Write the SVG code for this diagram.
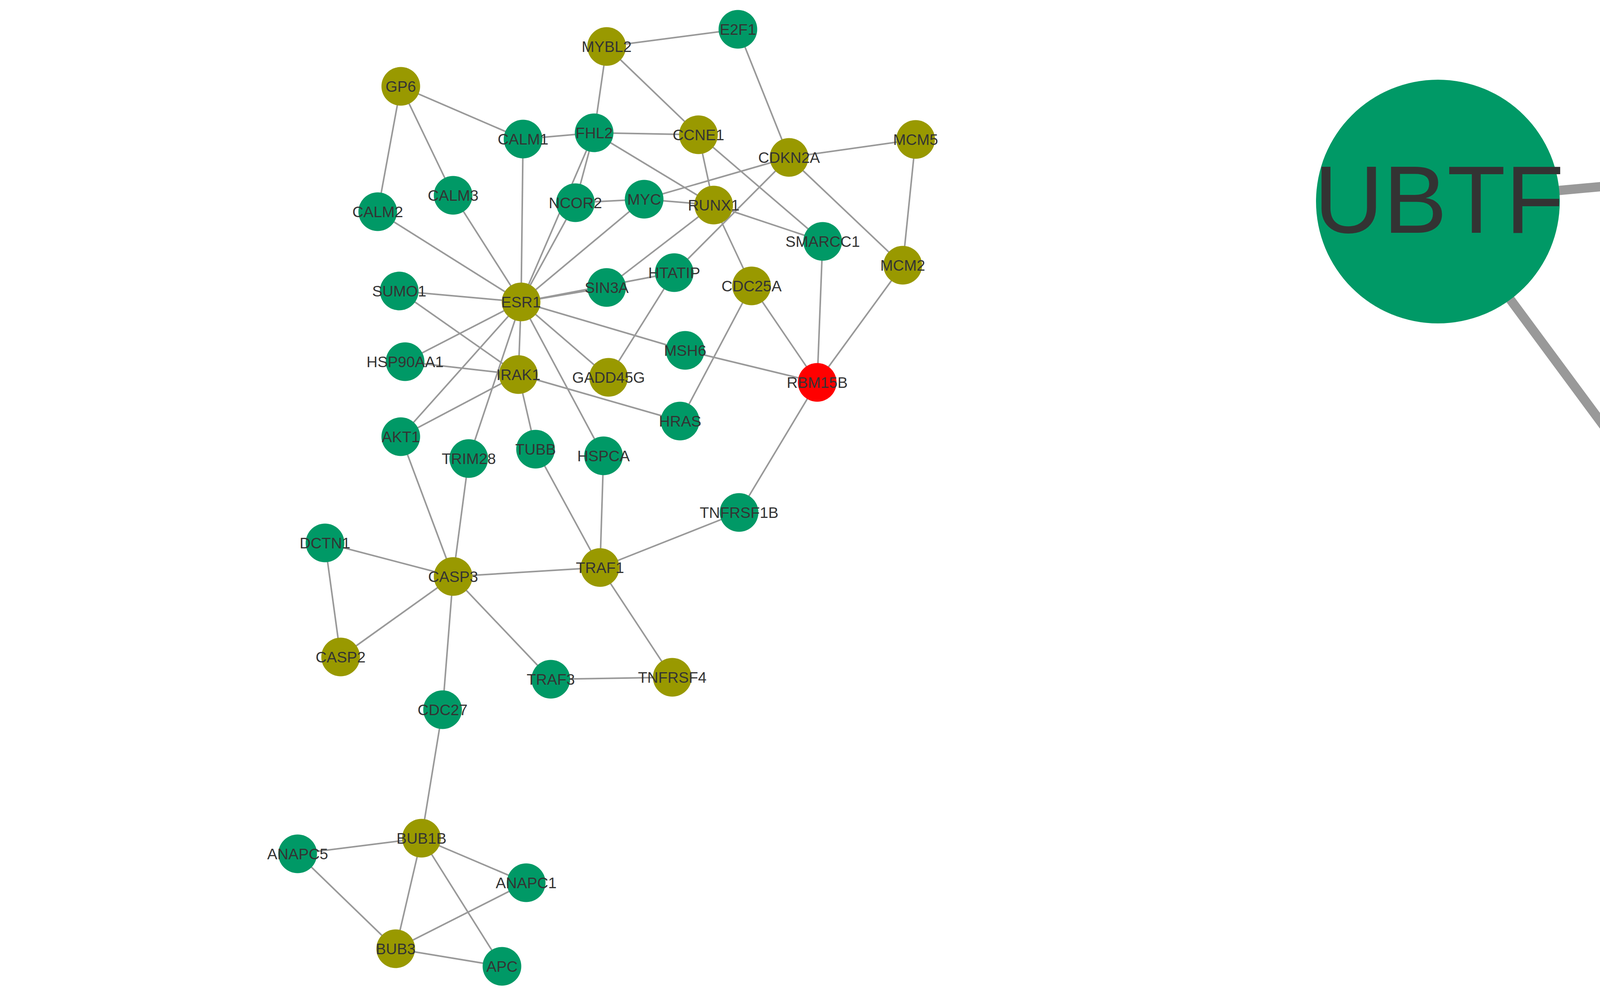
<svg xmlns="http://www.w3.org/2000/svg" width="6213" height="2550" viewBox="0 0 6213 2550">
<style>
.e{stroke:#999999;stroke-width:4;fill:none}
.eL{stroke:#999999;stroke-width:24;fill:none}
.g{fill:#009966}
.o{fill:#999900}
.r{fill:#ff0000}
.t{font-family:"Liberation Sans",Arial,sans-serif;font-size:39px;fill:#333333;text-anchor:middle}
.T{font-family:"Liberation Sans",Arial,sans-serif;font-size:245px;fill:#333333;text-anchor:middle}
</style>
<rect width="6213" height="2550" fill="#ffffff"/>
<g id="edges">
<line class="e" x1="1553" y1="119" x2="1889" y2="75"/>
<line class="e" x1="1553" y1="119" x2="1521" y2="340"/>
<line class="e" x1="1553" y1="119" x2="1788" y2="345"/>
<line class="e" x1="1026" y1="221" x2="1339" y2="356"/>
<line class="e" x1="1026" y1="221" x2="967" y2="542"/>
<line class="e" x1="1026" y1="221" x2="1160" y2="500"/>
<line class="e" x1="1339" y1="356" x2="1521" y2="340"/>
<line class="e" x1="1339" y1="356" x2="1334" y2="773"/>
<line class="e" x1="1521" y1="340" x2="1788" y2="345"/>
<line class="e" x1="1521" y1="340" x2="1827" y2="525"/>
<line class="e" x1="1521" y1="340" x2="1473" y2="519"/>
<line class="e" x1="1521" y1="340" x2="1334" y2="773"/>
<line class="e" x1="1473" y1="519" x2="1334" y2="773"/>
<line class="e" x1="1473" y1="519" x2="1649" y2="510"/>
<line class="e" x1="1649" y1="510" x2="1827" y2="525"/>
<line class="e" x1="1649" y1="510" x2="2020" y2="403"/>
<line class="e" x1="1649" y1="510" x2="1334" y2="773"/>
<line class="e" x1="1827" y1="525" x2="1553" y2="736"/>
<line class="e" x1="1827" y1="525" x2="2106" y2="618"/>
<line class="e" x1="1827" y1="525" x2="1788" y2="345"/>
<line class="e" x1="1827" y1="525" x2="1924" y2="732"/>
<line class="e" x1="1788" y1="345" x2="2106" y2="618"/>
<line class="e" x1="2020" y1="403" x2="1889" y2="75"/>
<line class="e" x1="2020" y1="403" x2="2344" y2="357"/>
<line class="e" x1="2020" y1="403" x2="2311" y2="679"/>
<line class="e" x1="2020" y1="403" x2="1726" y2="698"/>
<line class="e" x1="2344" y1="357" x2="2311" y2="679"/>
<line class="e" x1="2106" y1="618" x2="2092" y2="979"/>
<line class="e" x1="2311" y1="679" x2="2092" y2="979"/>
<line class="e" x1="1924" y1="732" x2="2092" y2="979"/>
<line class="e" x1="1924" y1="732" x2="1741" y2="1078"/>
<line class="e" x1="1754" y1="897" x2="2092" y2="979"/>
<line class="e" x1="1334" y1="773" x2="1754" y2="897"/>
<line class="e" x1="1334" y1="773" x2="1726" y2="698"/>
<line class="e" x1="1334" y1="773" x2="1553" y2="736"/>
<line class="e" x1="1726" y1="698" x2="1558" y2="966"/>
<line class="e" x1="1334" y1="773" x2="1558" y2="966"/>
<line class="e" x1="1334" y1="773" x2="1022" y2="745"/>
<line class="e" x1="1334" y1="773" x2="967" y2="542"/>
<line class="e" x1="1334" y1="773" x2="1160" y2="500"/>
<line class="e" x1="1334" y1="773" x2="1037" y2="926"/>
<line class="e" x1="1334" y1="773" x2="1327" y2="959"/>
<line class="e" x1="1334" y1="773" x2="1026" y2="1118"/>
<line class="e" x1="1334" y1="773" x2="1200" y2="1174"/>
<line class="e" x1="1334" y1="773" x2="1545" y2="1167"/>
<line class="e" x1="1022" y1="745" x2="1327" y2="959"/>
<line class="e" x1="1037" y1="926" x2="1327" y2="959"/>
<line class="e" x1="1327" y1="959" x2="1026" y2="1118"/>
<line class="e" x1="1327" y1="959" x2="1371" y2="1150"/>
<line class="e" x1="1327" y1="959" x2="1741" y2="1078"/>
<line class="e" x1="1026" y1="1118" x2="1160" y2="1476"/>
<line class="e" x1="1200" y1="1174" x2="1160" y2="1476"/>
<line class="e" x1="1371" y1="1150" x2="1536" y2="1453"/>
<line class="e" x1="1545" y1="1167" x2="1536" y2="1453"/>
<line class="e" x1="1892" y1="1312" x2="1536" y2="1453"/>
<line class="e" x1="1892" y1="1312" x2="2092" y2="979"/>
<line class="e" x1="1160" y1="1476" x2="832" y2="1390"/>
<line class="e" x1="1160" y1="1476" x2="1536" y2="1453"/>
<line class="e" x1="1160" y1="1476" x2="872" y2="1682"/>
<line class="e" x1="1160" y1="1476" x2="1410" y2="1739"/>
<line class="e" x1="1160" y1="1476" x2="1133" y2="1817"/>
<line class="e" x1="832" y1="1390" x2="872" y2="1682"/>
<line class="e" x1="1536" y1="1453" x2="1721" y2="1734"/>
<line class="e" x1="1410" y1="1739" x2="1721" y2="1734"/>
<line class="e" x1="1133" y1="1817" x2="1079" y2="2146"/>
<line class="e" x1="1079" y1="2146" x2="762" y2="2186"/>
<line class="e" x1="1079" y1="2146" x2="1347" y2="2260"/>
<line class="e" x1="1079" y1="2146" x2="1013" y2="2429"/>
<line class="e" x1="1079" y1="2146" x2="1285" y2="2474"/>
<line class="e" x1="762" y1="2186" x2="1013" y2="2429"/>
<line class="e" x1="1347" y1="2260" x2="1013" y2="2429"/>
<line class="e" x1="1013" y1="2429" x2="1285" y2="2474"/>
<line class="eL" x1="3681" y1="516" x2="5637" y2="337"/>
<line class="eL" x1="3681" y1="516" x2="4935" y2="2212"/>
<line class="eL" x1="5637" y1="337" x2="4935" y2="2212"/>
</g>
<g id="n-MYBL2"><circle class="o" cx="1553" cy="119" r="49.5"/><text class="t" x="1553" y="133">MYBL2</text></g>
<g id="n-E2F1"><circle class="g" cx="1889" cy="75" r="49.5"/><text class="t" x="1889" y="89">E2F1</text></g>
<g id="n-GP6"><circle class="o" cx="1026" cy="221" r="49.5"/><text class="t" x="1026" y="235">GP6</text></g>
<g id="n-CALM1"><circle class="g" cx="1339" cy="356" r="49.5"/><text class="t" x="1339" y="370">CALM1</text></g>
<g id="n-FHL2"><circle class="g" cx="1521" cy="340" r="49.5"/><text class="t" x="1521" y="354">FHL2</text></g>
<g id="n-CCNE1"><circle class="o" cx="1788" cy="345" r="49.5"/><text class="t" x="1788" y="359">CCNE1</text></g>
<g id="n-CDKN2A"><circle class="o" cx="2020" cy="403" r="49.5"/><text class="t" x="2020" y="417">CDKN2A</text></g>
<g id="n-MCM5"><circle class="o" cx="2344" cy="357" r="49.5"/><text class="t" x="2344" y="371">MCM5</text></g>
<g id="n-CALM2"><circle class="g" cx="967" cy="542" r="49.5"/><text class="t" x="967" y="556">CALM2</text></g>
<g id="n-CALM3"><circle class="g" cx="1160" cy="500" r="49.5"/><text class="t" x="1160" y="514">CALM3</text></g>
<g id="n-NCOR2"><circle class="g" cx="1473" cy="519" r="49.5"/><text class="t" x="1473" y="533">NCOR2</text></g>
<g id="n-MYC"><circle class="g" cx="1649" cy="510" r="49.5"/><text class="t" x="1649" y="524">MYC</text></g>
<g id="n-RUNX1"><circle class="o" cx="1827" cy="525" r="49.5"/><text class="t" x="1827" y="539">RUNX1</text></g>
<g id="n-SMARCC1"><circle class="g" cx="2106" cy="618" r="49.5"/><text class="t" x="2106" y="632">SMARCC1</text></g>
<g id="n-MCM2"><circle class="o" cx="2311" cy="679" r="49.5"/><text class="t" x="2311" y="693">MCM2</text></g>
<g id="n-HTATIP"><circle class="g" cx="1726" cy="698" r="49.5"/><text class="t" x="1726" y="712">HTATIP</text></g>
<g id="n-SIN3A"><circle class="g" cx="1553" cy="736" r="49.5"/><text class="t" x="1553" y="750">SIN3A</text></g>
<g id="n-CDC25A"><circle class="o" cx="1924" cy="732" r="49.5"/><text class="t" x="1924" y="746">CDC25A</text></g>
<g id="n-ESR1"><circle class="o" cx="1334" cy="773" r="49.5"/><text class="t" x="1334" y="787">ESR1</text></g>
<g id="n-SUMO1"><circle class="g" cx="1022" cy="745" r="49.5"/><text class="t" x="1022" y="759">SUMO1</text></g>
<g id="n-HSP90AA1"><circle class="g" cx="1037" cy="926" r="49.5"/><text class="t" x="1037" y="940">HSP90AA1</text></g>
<g id="n-IRAK1"><circle class="o" cx="1327" cy="959" r="49.5"/><text class="t" x="1327" y="973">IRAK1</text></g>
<g id="n-GADD45G"><circle class="o" cx="1558" cy="966" r="49.5"/><text class="t" x="1558" y="980">GADD45G</text></g>
<g id="n-MSH6"><circle class="g" cx="1754" cy="897" r="49.5"/><text class="t" x="1754" y="911">MSH6</text></g>
<g id="n-RBM15B"><circle class="r" cx="2092" cy="979" r="49.5"/><text class="t" x="2092" y="993">RBM15B</text></g>
<g id="n-HRAS"><circle class="g" cx="1741" cy="1078" r="49.5"/><text class="t" x="1741" y="1092">HRAS</text></g>
<g id="n-AKT1"><circle class="g" cx="1026" cy="1118" r="49.5"/><text class="t" x="1026" y="1132">AKT1</text></g>
<g id="n-TRIM28"><circle class="g" cx="1200" cy="1174" r="49.5"/><text class="t" x="1200" y="1188">TRIM28</text></g>
<g id="n-TUBB"><circle class="g" cx="1371" cy="1150" r="49.5"/><text class="t" x="1371" y="1164">TUBB</text></g>
<g id="n-HSPCA"><circle class="g" cx="1545" cy="1167" r="49.5"/><text class="t" x="1545" y="1181">HSPCA</text></g>
<g id="n-TNFRSF1B"><circle class="g" cx="1892" cy="1312" r="49.5"/><text class="t" x="1892" y="1326">TNFRSF1B</text></g>
<g id="n-DCTN1"><circle class="g" cx="832" cy="1390" r="49.5"/><text class="t" x="832" y="1404">DCTN1</text></g>
<g id="n-CASP3"><circle class="o" cx="1160" cy="1476" r="49.5"/><text class="t" x="1160" y="1490">CASP3</text></g>
<g id="n-TRAF1"><circle class="o" cx="1536" cy="1453" r="49.5"/><text class="t" x="1536" y="1467">TRAF1</text></g>
<g id="n-CASP2"><circle class="o" cx="872" cy="1682" r="49.5"/><text class="t" x="872" y="1696">CASP2</text></g>
<g id="n-TRAF3"><circle class="g" cx="1410" cy="1739" r="49.5"/><text class="t" x="1410" y="1753">TRAF3</text></g>
<g id="n-TNFRSF4"><circle class="o" cx="1721" cy="1734" r="49.5"/><text class="t" x="1721" y="1748">TNFRSF4</text></g>
<g id="n-CDC27"><circle class="g" cx="1133" cy="1817" r="49.5"/><text class="t" x="1133" y="1831">CDC27</text></g>
<g id="n-BUB1B"><circle class="o" cx="1079" cy="2146" r="49.5"/><text class="t" x="1079" y="2160">BUB1B</text></g>
<g id="n-ANAPC5"><circle class="g" cx="762" cy="2186" r="49.5"/><text class="t" x="762" y="2200">ANAPC5</text></g>
<g id="n-ANAPC1"><circle class="g" cx="1347" cy="2260" r="49.5"/><text class="t" x="1347" y="2274">ANAPC1</text></g>
<g id="n-BUB3"><circle class="o" cx="1013" cy="2429" r="49.5"/><text class="t" x="1013" y="2443">BUB3</text></g>
<g id="n-APC"><circle class="g" cx="1285" cy="2474" r="49.5"/><text class="t" x="1285" y="2488">APC</text></g>
<g id="n-UBTF"><circle class="g" cx="3681" cy="516" r="312"/><text class="T" x="3684" y="596">UBTF</text></g>
<g id="n-TAF1A"><circle class="o" cx="5637" cy="337" r="311"/><text class="T" x="5639" y="418">TAF1A</text></g>
<g id="n-RBMX"><circle class="r" cx="4935" cy="2212" r="311"/><text class="T" x="4942" y="2293">RBMX</text></g>
</svg>
